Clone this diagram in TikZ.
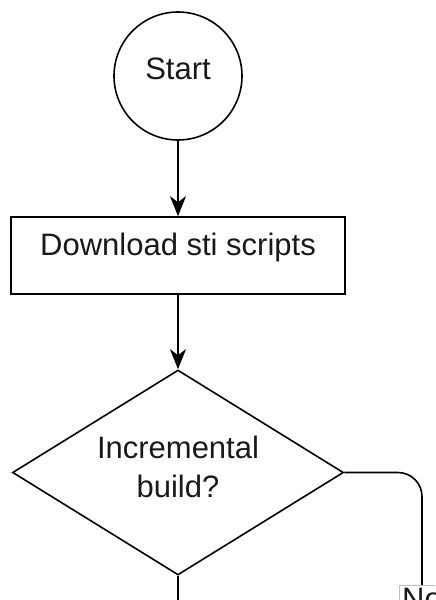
\documentclass[tikz,border=0pt]{standalone}
\usepackage{fontspec}
\setmainfont{Liberation Sans}
\usetikzlibrary{shapes.geometric,arrows.meta}
\tikzstyle{txt}=[font=\fontsize{15.5}{19.5}\selectfont, text=black!90]
\tikzstyle{term}=[circle,draw,line width=0.8pt,minimum size=64pt,inner sep=0pt,text depth=7pt,txt]
\tikzstyle{proc}=[rectangle,draw,line width=0.8pt,minimum width=167pt,minimum height=38.5pt,inner sep=0pt,text depth=11pt,txt]
\tikzstyle{dec}=[diamond,draw,line width=0.8pt,aspect=1.6,minimum width=165.5pt,minimum height=102.5pt,inner sep=0pt,align=center,text depth=6pt,txt]
\tikzstyle{flow}=[line width=0.8pt,-{Stealth[length=10pt,width=8pt,inset=3pt]}]
\tikzstyle{lbl}=[draw=black!25,fill=white,line width=0.4pt,inner sep=1.5pt,txt]

\begin{document}
\begin{tikzpicture}[x=0.5pt,y=-0.5pt]
\useasboundingbox (0,0) rectangle (435,600);
\clip (0,0) rectangle (435,600);

\node (start) at (178, 76) [term] {Start};
\node (dl) at (178, 255.5) [proc] {Download sti scripts};
\node (incr) at (178, 472.5) [dec] {Incremental\\build?};

\draw (start) -- (dl) [flow];
\draw (dl) -- (incr) [flow];

% "No" branch, runs off the bottom edge
\node (no) at (422, 599) [lbl] {No};
\draw [line width=0.8pt, rounded corners=12pt] (incr.east) -| (no.north);

% "Yes" branch continues straight down
\coordinate (yes) at (178, 660);
\draw (incr.south) -- (yes) [flow];

\end{tikzpicture}
\end{document}
